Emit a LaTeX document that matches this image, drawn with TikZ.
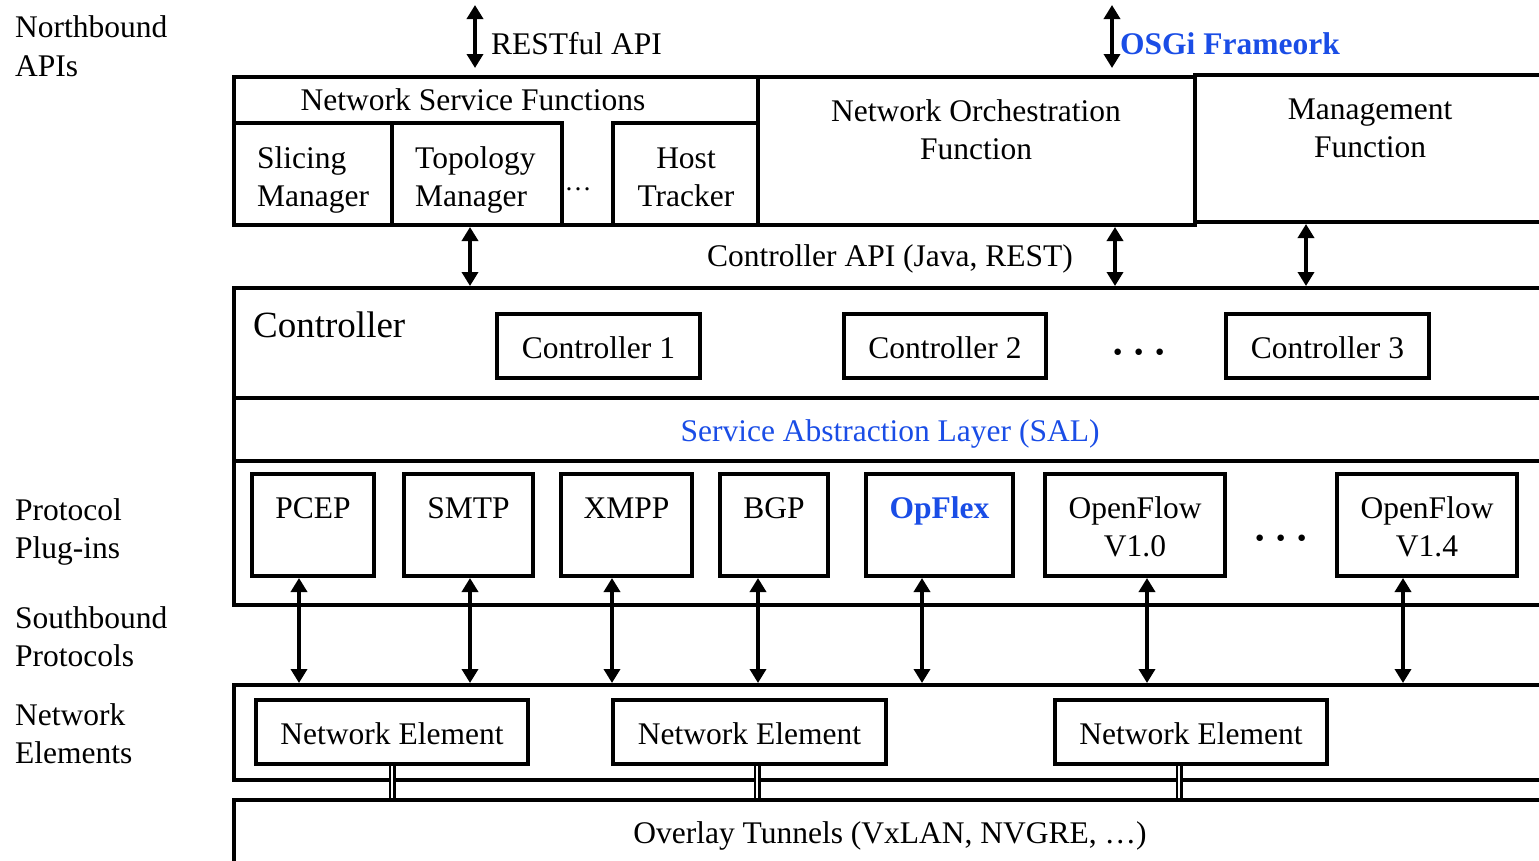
\documentclass[tikz,border=0pt]{standalone}
\usepackage{fontspec}
\setmainfont{Liberation Serif}
\usetikzlibrary{arrows.meta,fit}
\definecolor{osgiblue}{RGB}{26,77,230}
\newcommand\fsmain{\fontsize{31.5pt}{38pt}\selectfont}
\newcommand\fsbig{\fontsize{37pt}{44pt}\selectfont}
\newcommand\fssmall{\fontsize{27pt}{32pt}\selectfont}
\newcommand\fsdots{\fontsize{40pt}{44pt}\selectfont}
\newcommand\mdot{\textbf{·}}
\tikzset{
  box/.style={draw, line width=4pt, inner sep=0pt},
  txt/.style={inner sep=0pt, font=\fsmain, anchor=base},
  lbl/.style={txt, anchor=base west},
  dotsnode/.style={txt, font=\fsdots},
  arr/.style={line width=4.5pt, {Triangle[length=14pt,width=16pt]}-{Triangle[length=14pt,width=16pt]}},
  dbl/.style={draw, line width=2.5pt, double=white, double distance=2pt},
}
\begin{document}
\begin{tikzpicture}[x=1pt,y=-1pt]
\useasboundingbox (0,0) rectangle (1539,860);
\clip (0,0) rectangle (1539,860);

% ---------- left labels ----------
\node[lbl] (l1a) at (15,37) {Northbound};
\node[lbl] (l1b) at (15,76) {APIs};
\node[lbl] (l2a) at (15,520) {Protocol};
\node[lbl] (l2b) at (15,558) {Plug-ins};
\node[lbl] (l3a) at (15,628) {Southbound};
\node[lbl] (l3b) at (15,666) {Protocols};
\node[lbl] (l4a) at (15,725) {Network};
\node[lbl] (l4b) at (15,763) {Elements};

% ---------- top layer ----------
\node[box, fit={(234,77) (758,225)}] (nsf) {};
\node[box, fit={(758,77) (1195,225)}] (orch) {};
\node[box, fit={(1195,75) (1570,222)}] (mgmt) {};
\node[box, fit={(234,123) (392,225)}] (slice) {};
\node[box, fit={(392,123) (562,225)}] (topo) {};
\node[box, fit={(613,123) (758,225)}] (host) {};

\node[txt] (tnsf) at (473,110) {Network Service Functions};
\node[lbl] (tslice1) at (257,168) {Slicing};
\node[lbl] (tslice2) at (257,206) {Manager};
\node[lbl] (ttopo1) at (415,168) {Topology};
\node[lbl] (ttopo2) at (415,206) {Manager};
\node[txt] (thost1) at (686,168) {Host};
\node[txt] (thost2) at (686,206) {Tracker};
\node[txt, font=\fssmall] (nsfdots) at (578,190) {…};
\node[txt] (torch1) at (976,121) {Network Orchestration};
\node[txt] (torch2) at (976,159) {Function};
\node[txt] (tmgmt1) at (1370,119) {Management};
\node[txt] (tmgmt2) at (1370,157) {Function};

% northbound arrows
\coordinate (restT) at (475,5);
\coordinate (restB) at (475,68);
\draw[arr] (restT) -- (restB);
\node[lbl] (trest) at (491,54) {RESTful API};
\coordinate (osgiT) at (1112,5);
\coordinate (osgiB) at (1112,68);
\draw[arr] (osgiT) -- (osgiB);
\node[lbl, text=osgiblue, font=\fsmain\bfseries] (tosgi) at (1120,54) {OSGi Frameork};

% ---------- controller ----------
\node[box, fit={(234,288) (1570,398)}] (ctrl) {};
\node[box, fit={(234,398) (1570,461)}] (sal) {};
\node[txt] (tapi) at (890,266) {Controller API (Java, REST)};
\draw[arr] (470,0 |- topo.south) -- (470,0 |- ctrl.north);
\draw[arr] (1115,0 |- orch.south) -- (1115,0 |- ctrl.north);
\draw[arr] (1306,0 |- mgmt.south) -- (1306,0 |- ctrl.north);

\node[lbl, font=\fsbig] (tctrl) at (253,337) {Controller};
\node[box, fit={(497,314) (700,378)}] (c1) {};
\node[box, fit={(844,314) (1046,378)}] (c2) {};
\node[box, fit={(1226,314) (1429,378)}] (c3) {};
\node[txt] (tc1) at (598.5,358) {Controller 1};
\node[txt] (tc2) at (945,358) {Controller 2};
\node[txt] (tc3) at (1327.5,358) {Controller 3};
\node[dotsnode] (cdots) at (1139,365) {\mdot\hspace{7.5pt}\mdot\hspace{7.5pt}\mdot};
\node[txt, text=osgiblue] (tsal) at (890,441) {Service Abstraction Layer (SAL)};

% ---------- plug-ins ----------
\node[box, fit={(234,461) (1570,605)}] (plug) {};
\node[box, fit={(252,474) (374,576)}] (pcep) {};
\node[box, fit={(404,474) (533,576)}] (smtp) {};
\node[box, fit={(561,474) (692,576)}] (xmpp) {};
\node[box, fit={(720,474) (828,576)}] (bgp) {};
\node[box, fit={(866,474) (1013,576)}] (opflex) {};
\node[box, fit={(1045,474) (1225,576)}] (of10) {};
\node[box, fit={(1337,474) (1517,576)}] (of14) {};
\node[txt] (tpcep) at (313,518) {PCEP};
\node[txt] (tsmtp) at (468.5,518) {SMTP};
\node[txt] (txmpp) at (626.5,518) {XMPP};
\node[txt] (tbgp) at (774,518) {BGP};
\node[txt, text=osgiblue, font=\fsmain\bfseries] (topflex) at (939.5,518) {OpFlex};
\node[txt] (tof10a) at (1135,518) {OpenFlow};
\node[txt] (tof10b) at (1135,556) {V1.0};
\node[txt] (tof14a) at (1427,518) {OpenFlow};
\node[txt] (tof14b) at (1427,556) {V1.4};
\node[dotsnode] (pdots) at (1281,551) {\mdot\hspace{8pt}\mdot\hspace{8pt}\mdot};

% ---------- network elements ----------
\node[box, fit={(234,685) (1570,780)}] (nel) {};
\node[box, fit={(256,700) (528,764)}] (ne1) {};
\node[box, fit={(613,700) (886,764)}] (ne2) {};
\node[box, fit={(1055,700) (1327,764)}] (ne3) {};
\node[txt] (tne1) at (392,744) {Network Element};
\node[txt] (tne2) at (749.5,744) {Network Element};
\node[txt] (tne3) at (1191,744) {Network Element};

% southbound arrows
\draw[arr] (299,0 |- pcep.south) -- (299,0 |- nel.north);
\draw[arr] (470,0 |- smtp.south) -- (470,0 |- nel.north);
\draw[arr] (612,0 |- xmpp.south) -- (612,0 |- nel.north);
\draw[arr] (758,0 |- bgp.south) -- (758,0 |- nel.north);
\draw[arr] (922,0 |- opflex.south) -- (922,0 |- nel.north);
\draw[arr] (1147,0 |- of10.south) -- (1147,0 |- nel.north);
\draw[arr] (1403,0 |- of14.south) -- (1403,0 |- nel.north);

% ---------- overlay ----------
\node[box, fit={(234,800) (1570,890)}] (ovl) {};
\node[txt] (tovl) at (890,843) {Overlay Tunnels (VxLAN, NVGRE, …)};
\draw[dbl] (392,0 |- ne1.south) -- (392,0 |- ovl.north);
\draw[dbl] (757,0 |- ne2.south) -- (757,0 |- ovl.north);
\draw[dbl] (1179,0 |- ne3.south) -- (1179,0 |- ovl.north);
\end{tikzpicture}
\end{document}
